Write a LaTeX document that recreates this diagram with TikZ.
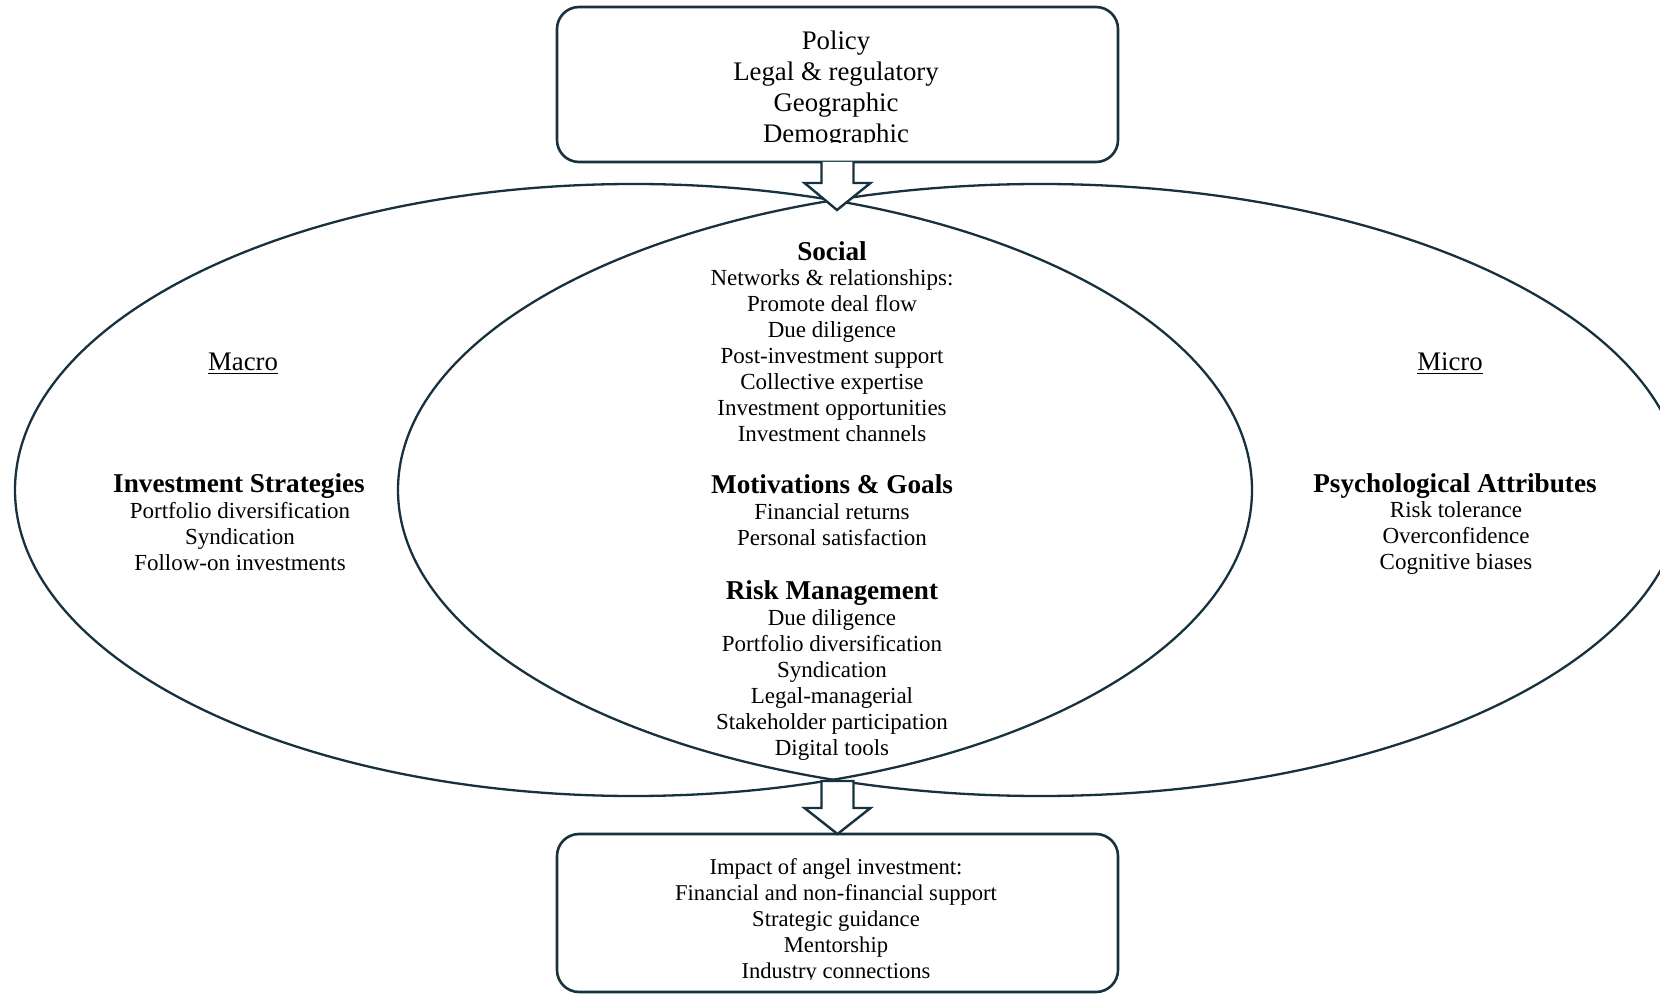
\documentclass[tikz,border=0pt]{standalone}
\usepackage{fontspec}
\setmainfont{Liberation Serif}
\usetikzlibrary{shapes.geometric,calc}
\definecolor{edge}{HTML}{17313F}
\begin{document}
\begin{tikzpicture}[x=0.5pt,y=-0.5pt,
  oval/.style={ellipse, draw=edge, line width=1.15pt, inner sep=0pt, outer sep=0pt},
  panel/.style={draw=edge, line width=1.3pt, rounded corners=11pt, fill=white, minimum width=280.5pt, inner sep=0pt, outer sep=0pt},
  blockarrow/.style={draw=edge, line width=1.2pt, fill=white, line join=miter},
  head/.style={font=\fontsize{13.6}{15}\selectfont\bfseries, inner sep=0pt},
  body/.style={font=\fontsize{11.5}{13}\selectfont, align=center, inner sep=0pt},
  title/.style={font=\fontsize{13.4}{15.5}\selectfont, align=center, inner sep=0pt},
  foot/.style={font=\fontsize{11.3}{13}\selectfont, align=center, inner sep=0pt},
  ]
\useasboundingbox (0,0) rectangle (1660,994);
% two overlapping ellipses
\begin{scope}
\clip (0,0) rectangle (1660,994);
\node[oval, minimum width=618.5pt, minimum height=306pt] (macro) at (633.5,490) {};
\node[oval, minimum width=642.5pt, minimum height=306pt] (micro) at (1040.5,490) {};
\end{scope}
% boxes
\node[panel, minimum height=77.5pt] (top) at (837.5,84.5) {};
\node[panel, minimum height=79pt] (bottom) at (837.5,913) {};
\coordinate (ctop) at (837,210);
\coordinate (cbot) at (837.5,781);
% block arrows
\draw[blockarrow] ($(top.south)+(-16,0)$) -- ++(0,21) -- ++(-17,0) -- (ctop)
  -- ($(top.south)+(33,21)$) -- ++(-17,0) -- ($(top.south)+(16,0)$);
\draw[blockarrow] ($(cbot)+(-16,0)$) -- ($(bottom.north)+(-16,-26)$) -- ++(-17,0) -- (bottom.north)
  -- ($(bottom.north)+(33,-26)$) -- ++(-17,0) -- ($(cbot)+(16,0)$) -- cycle;
% box texts (clipped like the original)
\begin{scope}
\clip (557,7) rectangle (1118,143);
\node[title] (toptext) at (836,90) {Policy\\Legal \& regulatory\\Geographic\\Demographic};
\end{scope}
\begin{scope}
\clip (557,834) rectangle (1118,979);
\node[foot] (bottext) at (836,921) {Impact of angel investment:\\Financial and non-financial support\\Strategic guidance\\Mentorship\\Industry connections};
\end{scope}
% centre texts
\node[head] (social) at (832,251) {Social};
\node[body] (sociallist) at (832,356) {Networks \& relationships:\\Promote deal flow\\Due diligence\\Post-investment support\\Collective expertise\\Investment opportunities\\Investment channels};
\node[head] (motiv) at (832,484) {Motivations \& Goals};
\node[body] (motivlist) at (832,525) {Financial returns\\Personal satisfaction};
\node[head] (risk) at (832,593) {Risk Management};
\node[body] (risklist) at (832,685) {Due diligence\\Portfolio diversification\\Syndication\\Legal-managerial\\Stakeholder participation\\Digital tools};
% left texts
\node[title] (macrolabel) at (243,364) {\underline{Macro}};
\node[head] (strat) at (239,486) {Investment Strategies};
\node[body] (stratlist) at (240,537) {Portfolio diversification\\Syndication\\Follow-on investments};
% right texts
\node[title] (microlabel) at (1450,364) {\underline{Micro}};
\node[head] (psych) at (1455,486) {Psychological Attributes};
\node[body] (psychlist) at (1456,538) {Risk tolerance\\Overconfidence\\Cognitive biases};
\end{tikzpicture}
\end{document}
